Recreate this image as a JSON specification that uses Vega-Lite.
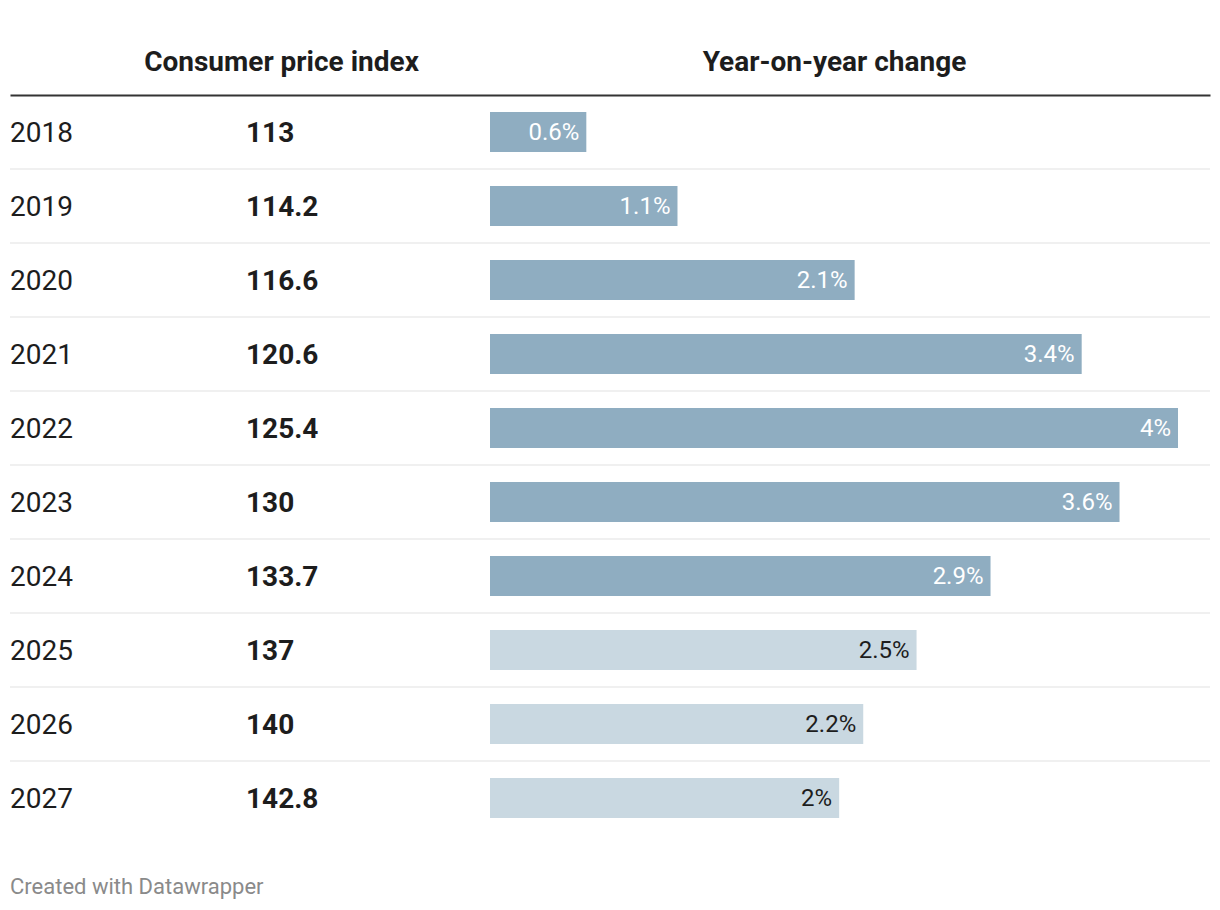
{
  "$schema": "https://vega.github.io/schema/vega-lite/v6.json",
  "width": 1200,
  "height": 740,
  "autosize": {"type": "none"},
  "padding": {"left": 10, "right": 10, "top": 95, "bottom": 75},
  "background": "#ffffff",
  "config": {"view": {"stroke": null}, "font": "Roboto"},
  "title": {
    "text": "Created with Datawrapper",
    "orient": "bottom",
    "anchor": "start",
    "frame": "group",
    "offset": 42,
    "font": "Roboto",
    "fontSize": 22,
    "fontWeight": "normal",
    "color": "#8a8a8a"
  },
  "data": {
    "values": [
      {"year": "2018", "cpi": 113, "change": 0.56, "label": "0.6%", "forecast": false},
      {"year": "2019", "cpi": 114.2, "change": 1.09, "label": "1.1%", "forecast": false},
      {"year": "2020", "cpi": 116.6, "change": 2.12, "label": "2.1%", "forecast": false},
      {"year": "2021", "cpi": 120.6, "change": 3.44, "label": "3.4%", "forecast": false},
      {"year": "2022", "cpi": 125.4, "change": 4.0, "label": "4%", "forecast": false},
      {"year": "2023", "cpi": 130, "change": 3.66, "label": "3.6%", "forecast": false},
      {"year": "2024", "cpi": 133.7, "change": 2.91, "label": "2.9%", "forecast": false},
      {"year": "2025", "cpi": 137, "change": 2.48, "label": "2.5%", "forecast": true},
      {"year": "2026", "cpi": 140, "change": 2.17, "label": "2.2%", "forecast": true},
      {"year": "2027", "cpi": 142.8, "change": 2.03, "label": "2%", "forecast": true}
    ]
  },
  "encoding": {
    "y": {
      "field": "year",
      "type": "nominal",
      "scale": {
        "domain": ["2018", "2019", "2020", "2021", "2022", "2023", "2024", "2025", "2026", "2027"],
        "paddingInner": 0,
        "paddingOuter": 0
      },
      "axis": null
    }
  },
  "layer": [
    {
      "transform": [{"filter": "datum.year != '2018'"}],
      "mark": {"type": "rule", "color": "#ebebeb", "strokeWidth": 1.6},
      "encoding": {
        "y": {"field": "year", "type": "nominal", "bandPosition": 0}
      }
    },
    {
      "mark": {"type": "bar", "height": {"band": 0.54}},
      "encoding": {
        "x": {
          "field": "change",
          "type": "quantitative",
          "scale": {"domain": [-2.7907, 4.186], "nice": false, "zero": false},
          "axis": {
            "orient": "top",
            "values": [-1.215, 2.0],
            "labelExpr": "datum.value < 0 ? 'Consumer price index' : 'Year-on-year change'",
            "ticks": false,
            "grid": false,
            "domain": true,
            "domainColor": "#333333",
            "domainWidth": 2,
            "labelFont": "Roboto",
            "labelFontSize": 28,
            "labelFontWeight": "bold",
            "labelColor": "#1d1d1d",
            "labelPadding": 19,
            "labelLimit": 0,
            "labelOverlap": false,
            "labelBound": false,
            "labelFlush": false,
            "title": null,
            "zindex": 1
          }
        },
        "x2": {"datum": 0},
        "color": {"condition": {"test": "datum.forecast", "value": "#c9d8e1"}, "value": "#8fadc1"}
      }
    },
    {
      "mark": {"type": "text", "align": "right", "baseline": "middle", "dx": -7, "dy": 1, "fontSize": 24, "font": "Roboto"},
      "encoding": {
        "x": {"field": "change", "type": "quantitative"},
        "text": {"field": "label", "type": "nominal"},
        "color": {"condition": {"test": "datum.forecast", "value": "#1d1d1d"}, "value": "#ffffff"}
      }
    },
    {
      "mark": {"type": "text", "align": "left", "baseline": "middle", "dy": 2, "fontSize": 28, "font": "Roboto", "color": "#1d1d1d"},
      "encoding": {
        "x": {"datum": -2.7907},
        "text": {"field": "year", "type": "nominal"}
      }
    },
    {
      "mark": {"type": "text", "align": "left", "baseline": "middle", "dy": 2, "fontSize": 28, "font": "Roboto", "fontWeight": "bold", "color": "#1d1d1d"},
      "encoding": {
        "x": {"datum": -1.4186},
        "text": {"field": "cpi", "type": "quantitative", "format": ".1~f"}
      }
    }
  ]
}
